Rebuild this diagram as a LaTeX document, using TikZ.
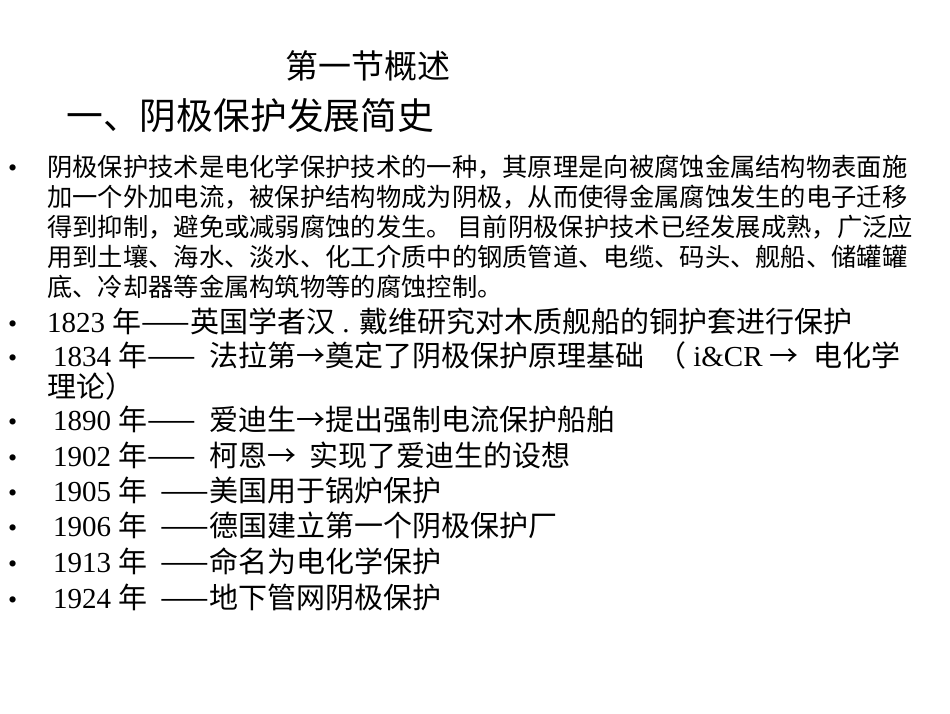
\documentclass[tikz,border=0pt]{standalone}
\usepackage{fontspec}
\setmainfont{Liberation Serif}
\newfontfamily\cjk{Noto Sans CJK SC}
\newcommand{\zh}[1]{{\cjk #1}}
\begin{document}
\begin{tikzpicture}[x=1pt,y=-1pt,
  txt/.style={anchor=base west,inner sep=0pt},
  para/.style={txt,font=\fontsize{25.3}{28}\selectfont\cjk},
  item/.style={txt,font=\fontsize{29}{32}\selectfont},
  bul/.style={txt,font=\fontsize{26}{28}\selectfont}]
\useasboundingbox (0,0) rectangle (950,713);
\node[txt,font=\fontsize{33}{36}\selectfont\cjk] (t1) at (285,78) {第一节概述};
\node[txt,font=\fontsize{36.8}{40}\selectfont\cjk] (t2) at (66,129) {一、阴极保护发展简史};
\node[bul] (b0) at (8,176) {•};
\node[para] (p1) at (47,176) {阴极保护技术是电化学保护技术的一种，其原理是向被腐蚀金属结构物表面施};
\node[para] (p2) at (47,206) {加一个外加电流，被保护结构物成为阴极，从而使得金属腐蚀发生的电子迁移};
\node[para] (p3) at (47,236) {得到抑制，避免或减弱腐蚀的发生。 目前阴极保护技术已经发展成熟，广泛应};
\node[para] (p4) at (47,266) {用到土壤、海水、淡水、化工介质中的钢质管道、电缆、码头、舰船、储罐罐};
\node[para] (p5) at (47,296) {底、冷却器等金属构筑物等的腐蚀控制。};
\foreach \y/\n in {332/1,366/2,430/3,466/4,501/5,536/6,572/7,608/8}
  \node[bul] (b\n) at (8,\y) {•};
\node[item] (i1) at (47,332) {1823 \zh{年——英国学者汉} . \zh{戴维研究对木质舰船的铜护套进行保护}};
\node[item] (i2) at (53,366) {1834 \zh{年——\ \ 法拉第→奠定了阴极保护原理基础\ \ （} i\&CR \zh{→}\ \ \zh{电化学}};
\node[item] (i2b) at (47,397) {\zh{理论）}};
\node[item] (i3) at (53,430) {1890 \zh{年——\ \ 爱迪生→提出强制电流保护船舶}};
\node[item] (i4) at (53,466) {1902 \zh{年——\ \ 柯恩→\ \ 实现了爱迪生的设想}};
\node[item] (i5) at (53,501) {1905 \zh{年\ \ ——美国用于锅炉保护}};
\node[item] (i6) at (53,536) {1906 \zh{年\ \ ——德国建立第一个阴极保护厂}};
\node[item] (i7) at (53,572) {1913 \zh{年\ \ ——命名为电化学保护}};
\node[item] (i8) at (53,608) {1924 \zh{年\ \ ——地下管网阴极保护}};
\end{tikzpicture}
\end{document}
